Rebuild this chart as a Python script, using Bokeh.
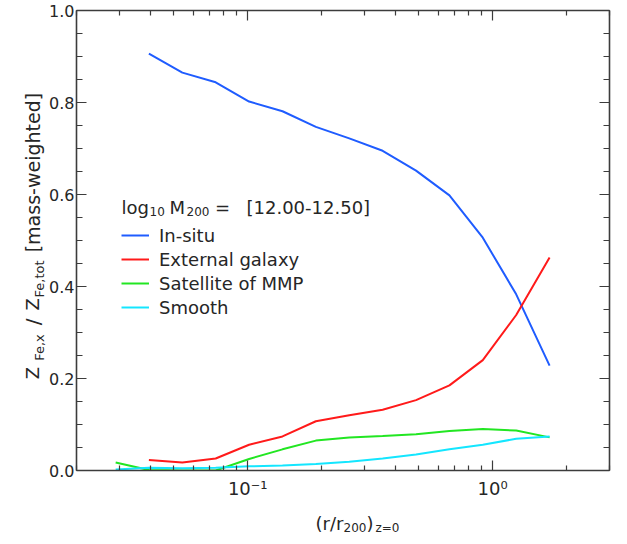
import numpy as np
from bokeh.plotting import figure
from bokeh.layouts import row, column
from bokeh.models import (LogAxis, LinearAxis, FixedTicker, SingleIntervalTicker,
                          PrintfTickFormatter, CustomJSTickFormatter, Range1d, Label,
                          Legend, LegendItem)
from bokeh.core.properties import value
from bokeh.embed import file_html
from bokeh.resources import INLINE

# ---------------- data ----------------
r_bins = [0.0289, 0.0395, 0.0541, 0.0740, 0.1013, 0.1387, 0.1898, 0.2598,
          0.3556, 0.4867, 0.6662, 0.9117, 1.248, 1.708]
in_situ = [0.906, 0.865, 0.844, 0.802, 0.781, 0.747, 0.722, 0.695, 0.652,
           0.598, 0.506, 0.383, 0.228]            # starts at r_bins[1]
external = [0.023, 0.0175, 0.026, 0.056, 0.074, 0.107, 0.120, 0.132, 0.153,
            0.185, 0.240, 0.338, 0.463]           # starts at r_bins[1]
satellite = [0.0175, 0.001, 0.0, 0.0, 0.025, 0.046, 0.065, 0.072, 0.075,
             0.079, 0.086, 0.090, 0.087, 0.072]
smooth = [0.002, 0.006, 0.005, 0.006, 0.009, 0.011, 0.014, 0.019, 0.026,
          0.035, 0.046, 0.056, 0.069, 0.074]

series_names = ["In-situ", "External galaxy", "Satellite of MMP", "Smooth"]
series_colors = ["#1f5cff", "#ff1a1a", "#22e622", "#14e6ff"]

x_major = [0.1, 1.0]
x_minor = [0.02, 0.03, 0.04, 0.05, 0.06, 0.07, 0.08, 0.09,
           0.2, 0.3, 0.4, 0.5, 0.6, 0.7, 0.8, 0.9, 2.0, 3.0]
x_major_labels = ["10\u207b\u00b9", "10\u2070"]
legend_title_parts = ["log", "10", "M", "200", "=", "[12.00-12.50]"]

FONT = "DejaVu Sans"
AX = "#3c3c3c"
TXT = "#262626"

# page geometry (pixels; the page has an 8px margin)
YW = 46                       # width of the y-title strip
FL, FR, FT, FB = 82, 617, 18, 481
BL = FL - 8 - YW              # main figure left border
BR, BB = 3, 28
MAIN_W = BL + (FR - FL) + BR
MAIN_H = (FT - 8) + (FB - FT) + BB
XH = 34                       # x-title strip height

p = figure(x_axis_type="log", x_range=Range1d(0.02, 3.0), y_range=Range1d(0.0, 1.0),
           width=MAIN_W, height=MAIN_H,
           min_border_left=BL, min_border_top=FT - 8, min_border_right=BR,
           min_border_bottom=BB,
           output_backend="svg", toolbar_location=None)
p.grid.visible = False
p.outline_line_color = None

xt = FixedTicker(ticks=x_major, minor_ticks=x_minor)
yt = SingleIntervalTicker(interval=0.2, num_minor_ticks=4)


def blank():
    return CustomJSTickFormatter(code="return ''")


def style(ax, major, minor):
    ax.axis_line_color = AX
    ax.axis_line_width = 1.6
    ax.major_tick_in = major
    ax.major_tick_out = 0
    ax.minor_tick_in = minor
    ax.minor_tick_out = 0
    ax.major_tick_line_color = AX
    ax.minor_tick_line_color = AX
    ax.major_tick_line_width = 1.2
    ax.minor_tick_line_width = 1.2
    ax.major_label_text_font = FONT
    ax.major_label_text_color = TXT


xb = p.below[0]
xb.ticker = xt
xb.major_label_overrides = dict(zip(x_major, x_major_labels))
xb.major_label_text_font_size = "18px"
xb.major_label_standoff = 7
style(xb, 10, 5)

yl = p.left[0]
yl.ticker = yt
yl.formatter = PrintfTickFormatter(format="%.1f")
yl.major_label_text_font_size = "16px"
yl.major_label_standoff = 2
style(yl, 10, 6)

xa = LogAxis(ticker=xt, formatter=blank(), major_label_standoff=0)
style(xa, 10, 5)
xa.major_label_text_font_size = "1px"
p.add_layout(xa, "above")
yr = LinearAxis(ticker=yt, formatter=blank(), major_label_standoff=0)
style(yr, 10, 6)
yr.major_label_text_font_size = "1px"
p.add_layout(yr, "right")

# ---------------- lines ----------------
ys = [in_situ, external, satellite, smooth]
items = []
for name, col, yv in zip(series_names, series_colors, ys):
    xv = r_bins[len(r_bins) - len(yv):]
    r = p.line(xv, yv, line_color=col, line_width=2)
    items.append(LegendItem(label=name, renderers=[r]))

legend = Legend(items=items, location=(45, 151), padding=0, margin=0,
                spacing=0, glyph_width=28, glyph_height=24, label_height=24,
                label_standoff=10, label_text_font=FONT, label_text_font_size="18px",
                label_text_color=TXT, border_line_color=None,
                background_fill_alpha=0)
p.add_layout(legend)


def my_y(ref):
    """map a reference page y inside the frame to this layout's page y"""
    return FT + (ref - 6) * (FB - FT) / 474.0


def lab(text, px, py, size, align="left"):
    p.add_layout(Label(x=0.02, y=0.0, x_offset=px - FL, y_offset=FB - py, text=text,
                       text_font=FONT, text_font_size=f"{size}px",
                       text_color=TXT, text_align=align, text_baseline="alphabetic"))


# legend title: log10 M200 = [12.00-12.50]
tb = my_y(211)
lab(legend_title_parts[0], 127, tb, 18)
lab(legend_title_parts[1], 155, tb + 3.5, 12)
lab(legend_title_parts[2], 175, tb, 18)
lab(legend_title_parts[3], 192, tb + 3.5, 12)
lab(legend_title_parts[4], 228, tb, 18, align="center")
lab(legend_title_parts[5], 252, tb, 18)


# ---------------- strip figures for the axis titles ----------------
def strip(w, h):
    f = figure(width=w, height=h, x_range=Range1d(0, w), y_range=Range1d(0, h),
               min_border=0, min_border_left=0, min_border_right=0,
               min_border_top=0, min_border_bottom=0,
               output_backend="svg", toolbar_location=None,
               x_axis_location=None, y_axis_location=None)
    f.grid.visible = False
    f.outline_line_color = None
    return f


yfig = strip(YW, MAIN_H)


def ytxt(text, page_x, page_y, size):
    yfig.text(x=[page_x - 8], y=[MAIN_H + 8 - page_y], text=[text], angle=np.pi / 2,
              text_font=value(FONT), text_font_size=f"{size}px", text_color=TXT,
              text_align="center", text_baseline="alphabetic")


# y title: Z_{Fe,x}/Z_{Fe,tot} [mass-weighted]
ytxt("Z", 40, my_y(400), 18)
ytxt("Fe,x", 47, my_y(371.5), 13)
ytxt("/", 40, my_y(343), 20)
ytxt("Z", 40, my_y(323.5), 18)
ytxt("Fe,tot", 47, my_y(295), 13)
ytxt("[mass-weighted]", 40, my_y(176.5), 19)

xfig = strip(YW + MAIN_W, XH)
X_TOP = 8 + MAIN_H


def xtxt(text, page_x, page_y, size):
    xfig.text(x=[page_x - 8], y=[X_TOP + XH - page_y], text=[text],
              text_font=value(FONT), text_font_size=f"{size}px", text_color=TXT,
              text_align="left", text_baseline="alphabetic")


# x title: (r/r_200)_{z=0}
xtxt("(r/r", 323, 531, 18)
xtxt("200", 351, 535, 12)
xtxt(")", 374, 531, 18)
xtxt("z=0", 383, 535, 12)

layout = column(row(yfig, p), xfig)
open("out.html", "w").write(file_html(layout, INLINE))
